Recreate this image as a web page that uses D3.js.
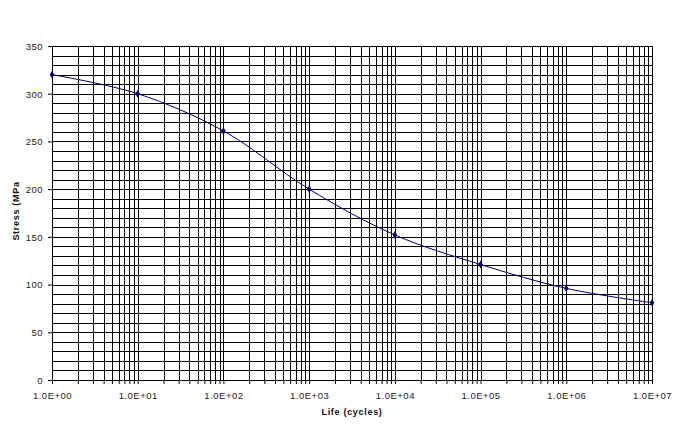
<!DOCTYPE html>
<html>
<head>
<meta charset="utf-8">
<script src="https://cdn.jsdelivr.net/npm/d3@7"></script>
<style>
  body { margin: 0; background: #fff; }
  svg { display: block; font-family: Arial, "Liberation Sans", sans-serif; }
  .axis text { fill: #222; font-size: 9.5px; letter-spacing: 0.5px; }
  .axis-title { font-size: 9px; font-weight: bold; fill: #111; letter-spacing: 0.7px; }
</style>
</head>
<body>
<div id="chart"><svg></svg></div>
<script>
// margins (plot area 52..652 x 46..380)
var T = 46;
var L = 52;
var R = 32;
var B = 52;
var W = 684, H = 432;

// data
var cycles = [1, 1e1, 1e2, 1e3, 1e4, 1e5, 1e6, 1e7];
var stress = [320, 300, 261, 200, 152, 121, 96, 81];
var xTickLabels = ["1.0E+00", "1.0E+01", "1.0E+02", "1.0E+03", "1.0E+04", "1.0E+05", "1.0E+06", "1.0E+07"];
var yTicks = [0, 50, 100, 150, 200, 250, 300, 350];

var svg = d3.select("#chart svg")
    .attr("width", W)
    .attr("height", H);

var x = d3.scaleLog()
    .domain([1, 1e7])
    .range([0, W - L - R]);
var y = d3.scaleLinear()
    .domain([0, 350])
    .range([H - T - B, 0]);

var pw = W - L - R, ph = H - T - B;

// all log gridlines: 1..9 per decade
var xGrid = [];
for (var e = 0; e < 7; e++) {
    for (var k = 1; k < 10; k++) xGrid.push(k * Math.pow(10, e));
}
xGrid.push(1e7);
var yGrid = d3.range(0, 351, 10);

var g = svg.append("g").attr("transform", "translate(" + L + "," + T + ")");

var gGrid = g.append("g").attr("class", "grid")
    .attr("stroke", "#000").attr("stroke-width", 1).attr("shape-rendering", "crispEdges");
gGrid.selectAll("line.v").data(xGrid).enter().append("line")
    .attr("class", "v")
    .attr("x1", function(d) { return Math.round(x(d)) + 0.5; })
    .attr("x2", function(d) { return Math.round(x(d)) + 0.5; })
    .attr("y1", 0).attr("y2", ph);
gGrid.selectAll("line.h").data(yGrid).enter().append("line")
    .attr("class", "h")
    .attr("y1", function(d) { return Math.round(y(d)) + 0.5; })
    .attr("y2", function(d) { return Math.round(y(d)) + 0.5; })
    .attr("x1", 0).attr("x2", pw);

// x axis: ticks at every grid position, labels only on decades
var gx = g.append("g").attr("class", "x-axis axis")
    .attr("transform", "translate(0," + ph + ")")
    .call(d3.axisBottom(x).tickValues(xGrid).tickSize(4).tickFormat(function(d) {
        var i = cycles.indexOf(d);
        return i >= 0 ? xTickLabels[i] : "";
    }));
gx.select(".domain").attr("stroke", "#000");
gx.selectAll(".tick line").attr("stroke", "#000");
gx.selectAll(".tick text").attr("dy", "1.25em");

var gy = g.append("g").attr("class", "y-axis axis")
    .call(d3.axisLeft(y).tickValues(yTicks).tickSize(4).tickPadding(5));
gy.select(".domain").attr("stroke", "#000");
gy.selectAll(".tick line").attr("stroke", "#000");
gy.selectAll(".tick text").attr("dy", "0.35em");

// smoothed line
var line = d3.line()
    .x(function(d, i) { return x(cycles[i]); })
    .y(function(d) { return y(d); })
    .curve(d3.curveCatmullRom.alpha(0.5));

g.append("path")
    .datum(stress)
    .attr("fill", "none")
    .attr("stroke", "#000066")
    .attr("stroke-width", 1)
    .attr("d", line);

g.selectAll("path.marker").data(stress).enter().append("path")
    .attr("class", "marker")
    .attr("d", d3.symbol().type(d3.symbolDiamond).size(18))
    .attr("fill", "#000066")
    .attr("transform", function(d, i) { return "translate(" + x(cycles[i]) + "," + y(d) + ")"; });

// axis titles
svg.append("text")
    .attr("class", "axis-title")
    .attr("x", L + pw / 2)
    .attr("y", 415)
    .attr("text-anchor", "middle")
    .text("Life (cycles)");

svg.append("text")
    .attr("class", "axis-title")
    .attr("transform", "translate(19," + 211 + ") rotate(-90)")
    .attr("text-anchor", "middle")
    .text("Stress (MPa");
</script>
</body>
</html>
